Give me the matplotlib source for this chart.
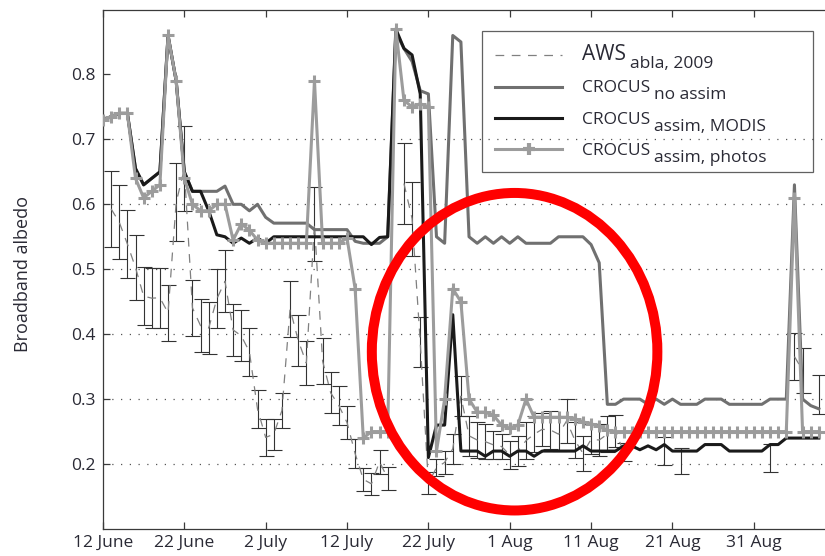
"""Broadband albedo: AWS observations vs CROCUS runs, summer 2009."""

import matplotlib

matplotlib.use("Agg")
import matplotlib.pyplot as plt
import numpy as np
from matplotlib.lines import Line2D
from matplotlib.patches import Ellipse

plt.rcParams["font.family"] = ["Open Sans", "DejaVu Sans"]

nan = np.nan

# days since 12 June
tick_days = [0, 10, 20, 30, 40, 50, 60, 70, 80]
tick_labels = ["12 June", "22 June", "2 July", "12 July", "22 July",
               "1 Aug", "11 Aug", "21 Aug", "31 Aug"]
y_ticks = [0.2, 0.3, 0.4, 0.5, 0.6, 0.7, 0.8]
grid_levels = [0.2, 0.3, 0.4, 0.5, 0.6, 0.7]

crocus_no_assim = [
    0.73, 0.735, 0.74, 0.74, 0.655, 0.63, 0.64, 0.65, 0.86, 0.79,
    0.65, 0.62, 0.62, 0.62, 0.62, 0.628, 0.60, 0.60, 0.59, 0.60,
    0.58, 0.571, 0.571, 0.571, 0.571, 0.571, 0.561, 0.561, 0.561, 0.561,
    0.561, 0.543, 0.54, 0.54, 0.54, 0.55, 0.865, 0.84, 0.82, 0.775,
    0.77, 0.55, 0.54, 0.86, 0.85, 0.55, 0.54, 0.55, 0.54, 0.55,
    0.54, 0.55, 0.54, 0.54, 0.54, 0.54, 0.55, 0.55, 0.55, 0.55,
    0.538, 0.51, 0.292, 0.292, 0.30, 0.30, 0.30, 0.292, 0.30, 0.292,
    0.30, 0.292, 0.292, 0.292, 0.30, 0.30, 0.30, 0.292, 0.292, 0.292,
    0.292, 0.292, 0.30, 0.30, 0.30, 0.63, 0.30, 0.29, 0.285,
]

crocus_modis = [
    0.73, 0.735, 0.74, 0.74, 0.655, 0.63, 0.64, 0.65, 0.86, 0.79,
    0.65, 0.62, 0.62, 0.59, 0.553, 0.55, 0.54, 0.548, 0.54, 0.548,
    0.54, 0.55, 0.55, 0.55, 0.55, 0.55, 0.55, 0.55, 0.55, 0.55,
    0.55, 0.55, 0.55, 0.538, 0.549, 0.55, 0.87, 0.84, 0.83, 0.77,
    0.21, 0.26, 0.26, 0.43, 0.22, 0.22, 0.22, 0.212, 0.22, 0.22,
    0.212, 0.22, 0.22, 0.212, 0.22, 0.22, 0.22, 0.22, 0.22, 0.228,
    0.22, 0.22, 0.22, 0.22, 0.228, 0.228, 0.222, 0.228, 0.222, 0.23,
    0.22, 0.22, 0.22, 0.22, 0.23, 0.23, 0.23, 0.22, 0.22, 0.22,
    0.22, 0.22, 0.23, 0.23, 0.24, 0.24, 0.24, 0.24, 0.24,
]

crocus_photos = [
    0.73, 0.735, 0.74, 0.74, 0.64, 0.61, 0.62, 0.63, 0.86, 0.79,
    0.64, 0.60, 0.59, 0.59, 0.60, 0.60, 0.545, 0.57, 0.56, 0.545,
    0.54, 0.54, 0.54, 0.54, 0.54, 0.54, 0.79, 0.54, 0.54, 0.54,
    0.548, 0.47, 0.24, 0.25, 0.25, 0.25, 0.87, 0.76, 0.75, 0.755,
    0.75, 0.22, 0.30, 0.47, 0.45, 0.30, 0.28, 0.28, 0.275, 0.26,
    0.255, 0.26, 0.30, 0.272, 0.272, 0.272, 0.272, 0.272, 0.27, 0.265,
    0.262, 0.258, 0.252, 0.25, 0.25, 0.25, 0.25, 0.25, 0.25, 0.25,
    0.25, 0.25, 0.25, 0.25, 0.25, 0.25, 0.25, 0.25, 0.25, 0.25,
    0.25, 0.25, 0.25, 0.25, 0.25, 0.61, 0.25, 0.25, 0.25,
]

aws_high = [
    nan, 0.652, 0.629, 0.592, 0.552, 0.503, 0.502, 0.502, 0.476, 0.663,
    0.720, 0.484, 0.454, 0.450, 0.500, 0.529, 0.447, 0.437, 0.410, 0.314,
    0.270, 0.270, 0.310, 0.482, 0.430, 0.390, 0.626, 0.394, 0.341, 0.320,
    0.290, 0.238, 0.194, 0.186, 0.222, 0.196, nan, 0.694, 0.635, 0.426,
    0.187, 0.207, 0.220, 0.247, 0.335, 0.274, 0.264, 0.261, 0.251, 0.246,
    0.236, 0.243, 0.264, 0.274, 0.279, 0.282, 0.272, 0.300, 0.264, 0.243,
    0.261, 0.261, 0.274, 0.275, 0.233, nan, nan, nan, nan, 0.241,
    nan, 0.224, nan, nan, nan, nan, nan, nan, nan, nan,
    nan, nan, 0.231, nan, nan, 0.402, 0.379, nan, 0.337,
]

aws_low = [
    nan, 0.534, 0.516, 0.486, 0.453, 0.414, 0.409, 0.410, 0.390, 0.543,
    0.589, 0.397, 0.372, 0.369, 0.409, 0.434, 0.366, 0.358, 0.336, 0.255,
    0.212, 0.222, 0.255, 0.396, 0.351, 0.321, 0.513, 0.323, 0.278, 0.260,
    0.238, 0.194, 0.159, 0.153, 0.185, 0.160, nan, 0.570, 0.521, 0.350,
    0.154, 0.182, 0.185, 0.200, 0.274, 0.213, 0.210, 0.208, 0.208, 0.208,
    0.192, 0.197, 0.208, 0.218, 0.228, 0.223, 0.220, 0.233, 0.210, 0.190,
    0.215, 0.213, 0.218, 0.226, 0.205, nan, nan, nan, nan, 0.198,
    nan, 0.185, nan, nan, nan, nan, nan, nan, nan, nan,
    nan, nan, 0.187, nan, nan, 0.329, 0.310, nan, 0.277,
]

# highlighted region (red ring)
ring_center = (50.6, 0.373)
ring_size = (35.1, 0.489)

text_color = "#2a2a35"
axis_color = "#3a3a3a"

days = np.arange(len(crocus_photos))
aws_high = np.array(aws_high)
aws_low = np.array(aws_low)
aws_mid = (aws_high + aws_low) / 2.0
aws_err = (aws_high - aws_low) / 2.0

fig = plt.figure(figsize=(8.25, 5.56), dpi=100)
ax = fig.add_axes([0.1248, 0.0486, 0.8776, 0.9343])

for level in grid_levels:
    ax.axhline(level, color="#555555", linewidth=0.9, linestyle=(0, (1, 6)), zorder=1)

ax.errorbar(days, aws_mid, yerr=aws_err, fmt="none", ecolor="#333333",
            elinewidth=0.8, capsize=5.4, capthick=0.8, zorder=2)
ax.plot(days, aws_mid, color="#808080", linewidth=0.9, dashes=(7, 6), zorder=2)

ax.plot(days, crocus_no_assim, color="#707070", linewidth=2.2, zorder=3)
ax.plot(days, crocus_modis, color="#1a1a1a", linewidth=2.2, zorder=3.5)
ax.plot(days, crocus_photos, color="#9c9c9c", linewidth=2.2, marker="+",
        markersize=8, markeredgewidth=2.2, zorder=4)

ring = Ellipse(ring_center, ring_size[0], ring_size[1], fill=False,
               edgecolor="#ff0000", linewidth=7.2, zorder=6)
ax.add_patch(ring)

ax.set_xlim(0, 89)
ax.set_ylim(0.1, 0.9)
ax.set_xticks(tick_days)
ax.set_xticklabels(tick_labels)
ax.set_yticks(y_ticks)
ax.set_yticklabels([f"{v:.1f}" for v in y_ticks])
ax.tick_params(direction="in", top=True, right=False, length=5, width=0.9,
               color=axis_color, labelcolor=text_color, labelsize=12.5)
ax.tick_params(axis="y", pad=5.5)
ax.tick_params(axis="x", pad=4)
for side in ("left", "top", "bottom"):
    ax.spines[side].set_color(axis_color)
    ax.spines[side].set_linewidth(0.9)
ax.spines["right"].set_visible(False)

ax.set_ylabel("Broadband albedo", fontsize=13, color=text_color)
ax.yaxis.set_label_coords(-0.098, 0.49)

handles = [
    Line2D([], [], color="#808080", linewidth=0.9, dashes=(7, 6)),
    Line2D([], [], color="#707070", linewidth=2.2),
    Line2D([], [], color="#1a1a1a", linewidth=2.2),
    Line2D([], [], color="#9c9c9c", linewidth=2.2, marker="+",
           markersize=9, markeredgewidth=3),
]
main_labels = ["AWS", "CROCUS", "CROCUS", "CROCUS"]
sub_labels = ["abla, 2009", "no assim", "assim, MODIS", "assim, photos"]

leg = ax.legend(handles, main_labels, loc="upper left",
                bbox_to_anchor=(0.5235, 0.6737, 0.4572, 0.2849), mode="expand",
                borderaxespad=0, fontsize=11, handlelength=4.4,
                handletextpad=1.3, borderpad=0.85, labelspacing=1.0,
                fancybox=False, edgecolor=axis_color, facecolor="none",
                framealpha=None)
leg.get_frame().set_linewidth(0.9)
leg_texts = leg.get_texts()
leg_texts[0].set_fontsize(15)
for txt in leg_texts[1:]:
    txt.set_fontsize(12.5)
for txt, sub in zip(leg_texts, sub_labels):
    txt.set_color(text_color)
    ax.annotate(sub, xy=(1, 0), xycoords=txt, xytext=(2.5, -2.3),
                textcoords="offset points", va="baseline", ha="left",
                fontsize=12.5, color=text_color, zorder=7)

fig.savefig("out.png", dpi=100)
